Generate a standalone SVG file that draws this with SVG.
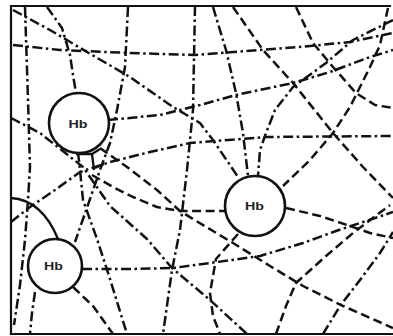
<svg xmlns="http://www.w3.org/2000/svg" width="393" height="336" viewBox="0 0 393 336">
<style>
.b{fill:none;stroke:#111;stroke-width:2.2;stroke-linecap:square}
.dd{fill:none;stroke:#111;stroke-width:2.5;stroke-dasharray:10 3.5 2.5 3.5;stroke-linejoin:round}
.da{fill:none;stroke:#111;stroke-width:2.5;stroke-dasharray:9 4.5;stroke-linejoin:round}
.sl{fill:none;stroke:#111;stroke-width:2.3;stroke-linejoin:round}
.node circle{fill:#fff;stroke:#111;stroke-width:2.6}
.node text{font-family:"Liberation Sans",Arial,sans-serif;font-weight:bold;font-size:11px;fill:#222;text-anchor:middle}
</style>
<rect width="393" height="336" fill="#fff"/>
<g id="frame">
<path class="b" d="M11,334 L11,6 L390,6"/>
<path class="b" d="M11,334 L393,334"/>
</g>
<g id="connectors">
<path class="dd" d="M25,7 L28,100 L30,167 L28,200 L25,240 L20,285 L14,325"/>
<path class="dd" d="M13,45 L60,50 L130,53 L195,55 L260,50 L310,46 L350,42 L393,33"/>
<path class="dd" d="M47,7 L62,28 L70,55 L73,75 L76,93"/>
<path class="dd" d="M13,10 L50,30 L87,52 L130,77 L173,107 L200,123 L213,140 L238,177"/>
<path class="dd" d="M108,120 L160,115 L200,105 L236,95 L293,83 L330,72 L370,57 L393,50"/>
<path class="dd" d="M11,222 L30,207 L55,190 L80,172 L110,162 L150,152 L190,143 L266,137 L393,136"/>
<path class="dd" d="M195,6 L193,110 L187,170 L180,230 L172,270 L163,334"/>
<path class="dd" d="M213,7 L226,50 L236,93 L243,133 L248,176"/>
<path class="da" d="M233,7 L263,50 L293,83 L333,133 L363,167 L393,198"/>
<path class="da" d="M296,7 L313,43 L333,67 L356,93 L375,105 L393,108"/>
<path class="da" d="M388,8 L380,45 L370,67 L350,107 L333,133 L310,160 L283,186"/>
<path class="dd" d="M393,20 L353,40 L326,63 L293,87 L275,110 L266,133 L260,150 L258,176"/>
<path class="da" d="M92,175 L113,187 L133,197 L157,207 L180,211 L226,211"/>
<path class="dd" d="M11,118 L40,133 L83,167 L110,206 L147,239 L172,268 L210,300 L247,334"/>
<path class="da" d="M100,148 L127,167 L157,190 L180,211 L193,219 L233,243 L270,266 L303,286 L343,306 L393,328"/>
<path class="da" d="M286,208 L320,216 L350,226 L370,233 L393,238"/>
<path class="da" d="M238,234 L216,259 L210,293 L213,316 L220,334"/>
<path class="dd" d="M82,269 L130,269 L173,268 L210,263 L260,256 L303,243 L336,231 L363,222 L393,212"/>
<path class="da" d="M276,334 L286,306 L296,283 L326,256 L353,233 L390,205"/>
<path class="dd" d="M323,334 L340,306 L360,280 L380,253 L393,232"/>
<path class="dd" d="M78,152 L80,170 L83,200 L97,239 L110,279 L127,334"/>
<path class="da" d="M73,287 L93,306 L113,334"/>
<path class="dd" d="M128,7 L125,67 L117,110 L110,143 L100,170 L90,199 L75,242"/>
<path class="sl" d="M11,198 Q42,200 58,239"/>
<path class="dd" d="M35,292 L32,313 L30,334"/>
<path class="sl" d="M76,154 L92,154 L94,170 M92,154 L100,149 M95,168 L104,164"/>
</g>
<g id="hb1" class="node"><circle cx="79" cy="123" r="30"/><text x="78" y="127.5" textLength="19" lengthAdjust="spacingAndGlyphs">Hb</text></g>
<g id="hb2" class="node"><circle cx="255" cy="206" r="30"/><text x="254.5" y="210" textLength="19" lengthAdjust="spacingAndGlyphs">Hb</text></g>
<g id="hb3" class="node"><circle cx="55" cy="266" r="27"/><text x="53.5" y="270" textLength="19" lengthAdjust="spacingAndGlyphs">Hb</text></g>
</svg>
